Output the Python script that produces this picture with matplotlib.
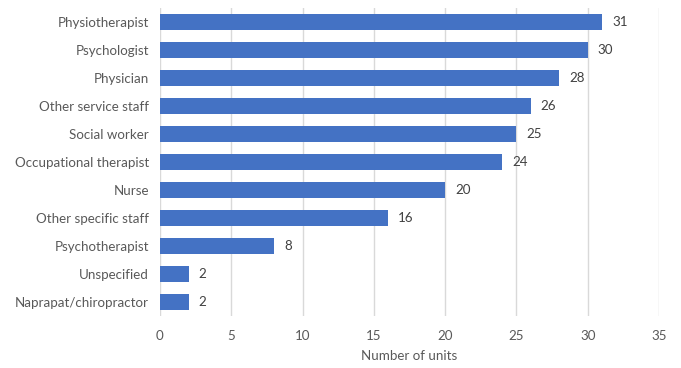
import matplotlib
matplotlib.use("Agg")
import matplotlib.pyplot as plt

categories = ["Physiotherapist", "Psychologist", "Physician", "Other service staff",
              "Social worker", "Occupational therapist", "Nurse", "Other specific staff",
              "Psychotherapist", "Unspecified", "Naprapat/chiropractor"]
values = [31, 30, 28, 26, 25, 24, 20, 16, 8, 2, 2]
xticks = [0, 5, 10, 15, 20, 25, 30, 35]
xlabel = "Number of units"

plt.rcParams['font.family'] = ['Lato', 'DejaVu Sans']
txt = "#595959"
fs = 9.6

fig = plt.figure(figsize=(6.81, 3.68), dpi=100)
ax = fig.add_axes([160/681, 1-316/368, (659-160)/681, (316-8)/368])
y = list(range(len(categories)))
ax.barh(y, values, height=0.57, color="#4472C4", zorder=3)
for yi, v in zip(y, values):
    ax.text(v + 0.7, yi, str(v), va="center", ha="left", fontsize=fs, color="#404040")
ax.set_yticks(y)
ax.set_yticklabels(categories, fontsize=fs, color=txt)
ax.set_ylim(len(categories) - 0.5, -0.5)
ax.set_xlim(0, 35)
ax.set_xticks(xticks)
ax.set_xticklabels([str(t) for t in xticks], fontsize=fs, color=txt)
ax.tick_params(length=0, pad=8)
ax.tick_params(axis='x', pad=10)
ax.grid(axis='x', color="#D9D9D9", linewidth=1, zorder=0)
for s in ax.spines.values():
    s.set_visible(False)
ax.set_xlabel(xlabel, fontsize=fs, color=txt, labelpad=6)
fig.savefig("out.png", dpi=100)
